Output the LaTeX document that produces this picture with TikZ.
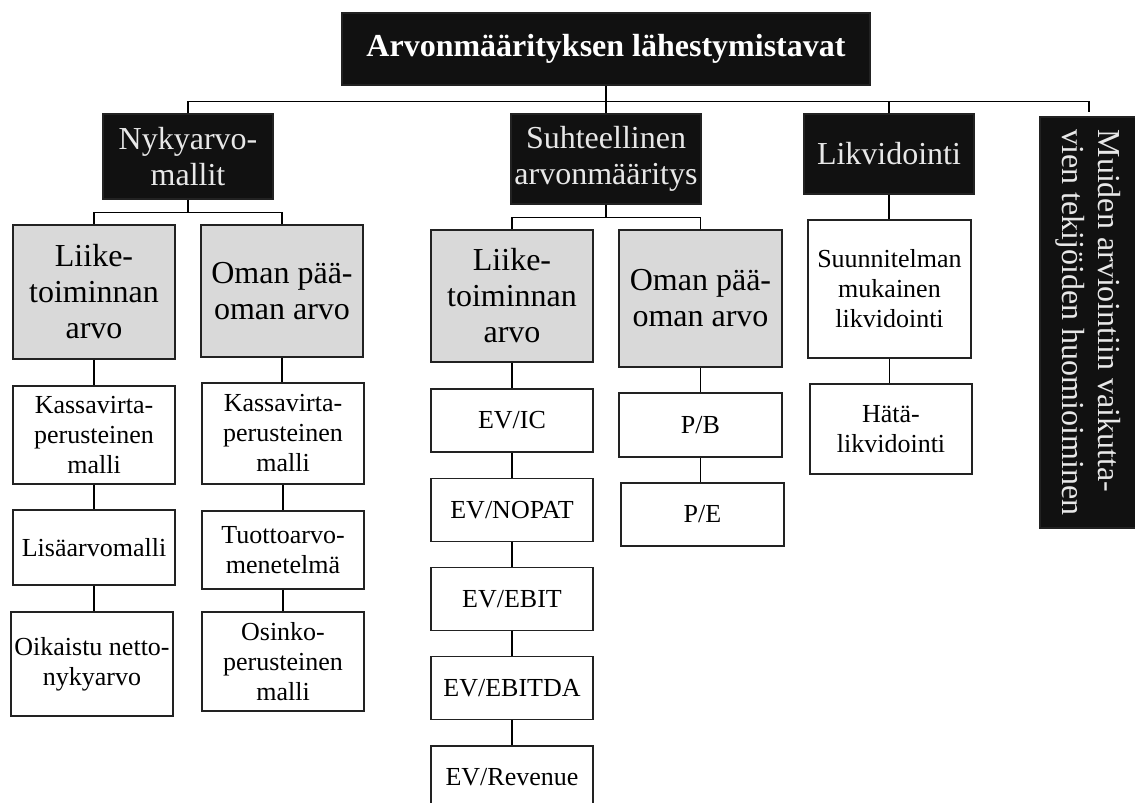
\documentclass[tikz,border=0pt]{standalone}
\usepackage{fontspec}
\setmainfont{Liberation Serif}
\definecolor{boxblack}{HTML}{111111}
\definecolor{boxgrey}{HTML}{D9D9D9}
\definecolor{textlight}{HTML}{E8E8E8}
\definecolor{linedark}{HTML}{222222}
\newcommand{\largelabel}{\fontsize{32}{36}\selectfont}
\newcommand{\smalllabel}{\fontsize{26}{30}\selectfont}
\begin{document}
\begin{tikzpicture}[
        x=1pt, y=-1pt,
        dark box/.style={fill=boxblack, draw=linedark, line width=1.2pt, text=textlight, font=\largelabel, align=center, inner sep=2pt},
        grey box/.style={fill=boxgrey, draw=linedark, line width=1.2pt, font=\largelabel, align=center, inner sep=2pt, minimum width=162},
        white box/.style={fill=white, draw=linedark, line width=1.2pt, font=\smalllabel, align=center, inner sep=2pt, minimum width=162},
        link/.style={draw=black, line width=1.2pt},
    ]

    \useasboundingbox (0,0) rectangle (1135,803);

    % Otsikko ja paahaarat
    \node[dark box, text=white, font=\largelabel\bfseries, minimum width=528, minimum height=72] (top) at (606,49) {Arvonmäärityksen lähestymistavat};
    \node[dark box, minimum width=170, minimum height=85] (nyk) at (188,156.5) {Nykyarvo-\\mallit};
    \node[dark box, minimum width=190, minimum height=90] (suh) at (606,159) {Suhteellinen\\arvonmääritys};
    \node[dark box, minimum width=170, minimum height=80] (lik) at (889,154) {Likvidointi};
    \node[dark box, rotate=-90, minimum width=411, minimum height=97, align=left] (mui) at (1088.5,322.5) {Muiden arviointiin vaikutta-\\vien tekijöiden huomioiminen};

    % Vaakaviiva paahaarojen ylla
    \coordinate (busL) at (188,101.5);
    \coordinate (busR) at (1089,101.5);
    \coordinate (muiEnd) at (1089,112);
    \draw[link] (top.south) -- (suh.north);
    \draw[link] (nyk.north) -- (busL) -- (busR) -- (muiEnd);
    \draw[link] (lik.north) -- (lik.north |- busL);

    % Nykyarvomallit
    \node[grey box, minimum height=134] (liike1) at (94,292) {Liike-\\toiminnan\\arvo};
    \node[grey box, minimum height=132] (oman1) at (282,291) {Oman pää-\\oman arvo};
    \node[white box, minimum height=98] (kas1) at (94,435) {Kassavirta-\\perusteinen\\malli};
    \node[white box, minimum height=75] (lis) at (94,547.5) {Lisäarvomalli};
    \node[white box, minimum height=104] (oik) at (92,664) {Oikaistu netto-\\nykyarvo};
    \node[white box, minimum height=101] (kas2) at (283,433.5) {Kassavirta-\\perusteinen\\malli};
    \node[white box, minimum height=78] (tuo) at (283,550) {Tuottoarvo-\\menetelmä};
    \node[white box, minimum height=99] (osi) at (283,661.5) {Osinko-\\perusteinen\\malli};

    % Suhteellinen arvonmaaritys
    \node[grey box, minimum height=132] (liike2) at (512,296) {Liike-\\toiminnan\\arvo};
    \node[grey box, minimum width=163, minimum height=137] (oman2) at (700.5,298.5) {Oman pää-\\oman arvo};
    \foreach \lbl [count=\i] in {IC, NOPAT, EBIT, EBITDA, Revenue} {
        \node[white box, minimum height=63] (ev\i) at (512,{420.5+89.25*(\i-1)}) {EV/\lbl};
    }
    \node[white box, minimum width=163, minimum height=64] (pb) at (700.5,425) {P/B};
    \node[white box, minimum width=163, minimum height=63] (pe) at (702.5,514.5) {P/E};

    % Likvidointi
    \node[white box, minimum width=163, minimum height=138] (suun) at (889.5,289) {Suunnitelman\\mukainen\\likvidointi};
    \node[white box, minimum height=90] (hata) at (891,429) {Hätä-\\likvidointi};

    % Alahaarojen vaakaviivat
    \draw[link] (nyk.south) -- ++(0,13) coordinate (nykBus);
    \draw[link] (liike1.north) |- (nykBus) -| (oman1.north);
    \draw[link] (suh.south) -- ++(0,13) coordinate (suhBus);
    \draw[link] (liike2.north) |- (suhBus) -| (oman2.north);
    \draw[link] (lik.south) -- (lik.south |- suun.north);

    % Pystysuorat ketjut
    \foreach \a/\b in {liike1/kas1, kas1/lis, lis/oik, oman1/kas2, kas2/tuo, tuo/osi, liike2/ev1, oman2/pb, pb/pe, suun/hata} {
        \draw[link] (\a.south) -- (\a.south |- \b.north);
    }
    \foreach \i in {1,...,4} {
        \pgfmathtruncatemacro{\j}{\i + 1}
        \draw[link] (ev\i.south) -- (ev\j.north);
    }

\end{tikzpicture}
\end{document}
